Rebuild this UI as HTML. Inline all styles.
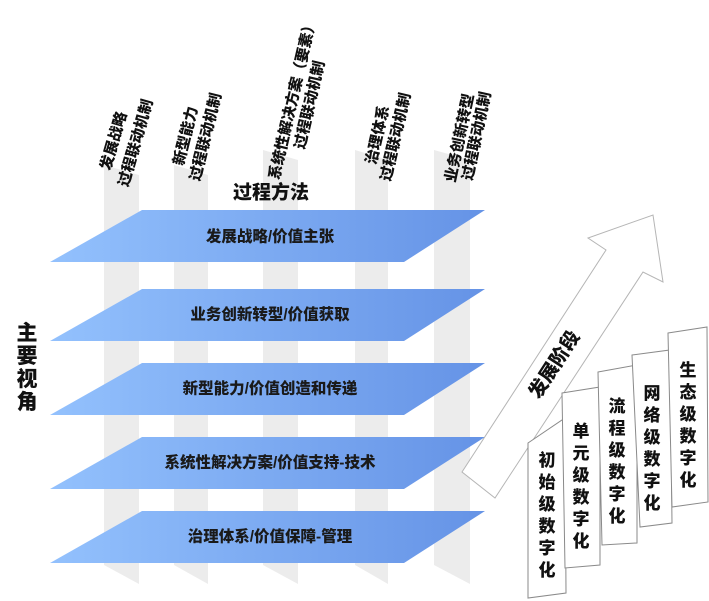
<!DOCTYPE html>
<html><head><meta charset="utf-8"><style>
html,body{margin:0;padding:0;background:#fff;}
svg{display:block;font-family:"Liberation Sans","Noto Sans CJK SC",sans-serif;font-weight:900;}
</style></head><body>
<svg width="709" height="601" viewBox="0 0 709 601" xmlns="http://www.w3.org/2000/svg">
<defs>
<linearGradient id="g" x1="0" y1="0" x2="1" y2="0">
<stop offset="0" stop-color="#93c1fd"/><stop offset="1" stop-color="#6593e6"/>
</linearGradient>
</defs>
<g fill="#ececec">
<polygon points="104,165 139,175 139,584 104,565"/>
<polygon points="174,165 208,175 208,584 174,565"/>
<polygon points="263,150 298,160 298,584 263,565"/>
<polygon points="355,150 388,160 388,584 355,565"/>
<polygon points="434,150 470,160 470,584 434,565"/>
</g>
<g fill="url(#g)">
<polygon points="142,210 485,210 404,262 50,262"/>
<polygon points="142,289 485,289 404,341 50,341"/>
<polygon points="142,363 485,363 404,415 50,415"/>
<polygon points="142,437 485,437 404,489 50,489"/>
<polygon points="142,511 485,511 404,563 50,563"/>
</g>
<g font-size="15.5" fill="#1a1a1a" text-anchor="middle" dominant-baseline="central">
<text x="270" y="237">发展战略/价值主张</text>
<text x="270" y="315">业务创新转型/价值获取</text>
<text x="270" y="389">新型能力/价值创造和传递</text>
<text x="270" y="463">系统性解决方案/价值支持-技术</text>
<text x="270" y="537">治理体系/价值保障-管理</text>
</g>
<text x="271" y="193" font-size="19" fill="#111" text-anchor="middle" dominant-baseline="central">过程方法</text>
<g font-size="21" fill="#111" text-anchor="middle">
<text x="27" y="340">主</text><text x="27" y="363">要</text><text x="27" y="386">视</text><text x="27" y="409">角</text>
</g>
<g font-size="15" fill="#111" text-anchor="middle" dominant-baseline="central">
<text transform="translate(114,141) rotate(-74)">发展战略</text>
<text transform="translate(136,143) rotate(-74)">过程联动机制</text>
<text transform="translate(186,136) rotate(-76)">新型能力</text>
<text transform="translate(206,137) rotate(-76)">过程联动机制</text>
<text transform="translate(293,99) rotate(-77)">系统性解决方案（要素）</text>
<text transform="translate(310,105) rotate(-77)">过程联动机制</text>
<text transform="translate(378,135) rotate(-77)">治理体系</text>
<text transform="translate(396,137) rotate(-77)">过程联动机制</text>
<text transform="translate(460,138) rotate(-78)">业务创新转型</text>
<text transform="translate(477,136) rotate(-78)">过程联动机制</text>
</g>
<polygon points="462,472 606,250 588,238 653,215 663,282 643,272 495,498" fill="#fff" stroke="#b5b5b5" stroke-width="1"/>
<text transform="translate(555,365) rotate(-57)" font-size="19" fill="#111" text-anchor="middle" dominant-baseline="central">发展阶段</text>
<g fill="#fff" stroke="#8a8a8a" stroke-width="1">
<polygon points="528,443 565,418 566,593 528,598"/>
<polygon points="562,393 600,387 600,565 565,568"/>
<polygon points="598,372 637,365 637,543 602,545"/>
<polygon points="632,355 670,350 672,523 640,527"/>
<polygon points="668,333 707,327 708,502 672,507"/>
</g>
<g font-size="17" fill="#111" text-anchor="middle">
<text x="547" y="466">初</text><text x="547" y="488">始</text><text x="547" y="510">级</text><text x="547" y="532">数</text><text x="547" y="554">字</text><text x="547" y="576">化</text>
<text x="581" y="437">单</text><text x="581" y="459">元</text><text x="581" y="481">级</text><text x="581" y="503">数</text><text x="581" y="525">字</text><text x="581" y="547">化</text>
<text x="617" y="412">流</text><text x="617" y="434">程</text><text x="617" y="456">级</text><text x="617" y="478">数</text><text x="617" y="500">字</text><text x="617" y="522">化</text>
<text x="652" y="399">网</text><text x="652" y="421">络</text><text x="652" y="443">级</text><text x="652" y="465">数</text><text x="652" y="487">字</text><text x="652" y="509">化</text>
<text x="688" y="376">生</text><text x="688" y="398">态</text><text x="688" y="420">级</text><text x="688" y="442">数</text><text x="688" y="464">字</text><text x="688" y="486">化</text>
</g>
</svg>
</body></html>
